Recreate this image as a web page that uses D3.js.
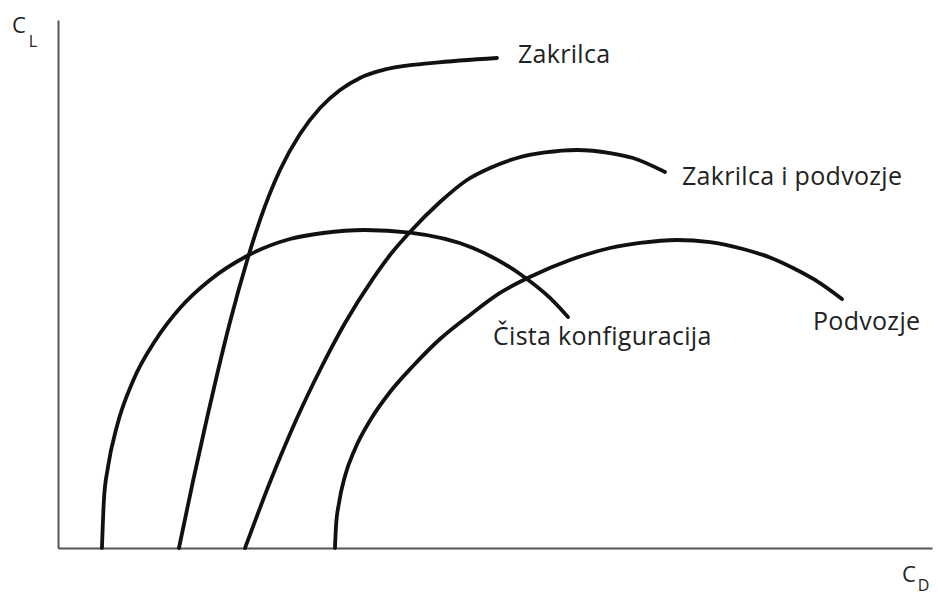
<!DOCTYPE html>
<html>
<head>
<meta charset="utf-8">
<script src="https://cdn.jsdelivr.net/npm/d3@7"></script>
<style>
  body { margin: 0; background: #fff; }
  text { font-family: "Open Sans", sans-serif; fill: #222; }
</style>
</head>
<body>
<div id="chart"></div>
<script>
// krivulje C_L(C_D), relativne jedinice 0-100
var cistaCD = [5.03, 5.26, 5.72, 6.75, 8.58, 11.10, 13.96, 17.39, 21.62, 26.54, 30.32, 35.13, 40.27, 47.48, 52.86, 56.29, 58.35];
var cistaCL = [0, 9.28, 15.34, 23.11, 31.63, 39.20, 45.45, 50.76, 55.30, 58.52, 59.66, 60.23, 59.73, 56.82, 51.89, 47.35, 43.75];

var zakrilcaCD = [13.84, 15.45, 17.05, 18.19, 19.68, 21.62, 23.11, 25.40, 27.69, 29.98, 32.27, 34.55, 37.64, 42.91, 50.23];
var zakrilcaCL = [0, 12.69, 24.62, 32.77, 42.80, 54.36, 62.12, 71.59, 78.41, 83.33, 86.74, 89.02, 90.72, 91.86, 92.80];

var zipCD = [21.40, 24.26, 27.35, 29.98, 32.84, 36.04, 37.99, 40.27, 43.71, 46.80, 49.43, 52.52, 55.72, 59.38, 63.16, 65.79, 69.45];
var zipCL = [0, 12.50, 24.62, 33.71, 42.61, 51.02, 55.49, 59.85, 65.53, 69.70, 71.97, 73.86, 74.91, 75.38, 74.81, 73.86, 71.21];

var podvozjeCD = [31.69, 31.81, 32.15, 32.84, 33.98, 35.81, 37.99, 40.62, 43.71, 47.14, 50.57, 54.23, 58.58, 63.16, 66.59, 70.82, 74.60, 78.38, 81.46, 84.10, 86.61, 89.70];
var podvozjeCL = [0, 4.17, 8.52, 13.64, 18.75, 24.43, 29.55, 34.47, 39.58, 44.13, 48.30, 51.52, 54.55, 56.82, 57.77, 58.33, 57.95, 56.63, 55.02, 53.03, 50.76, 47.16];

var names = ["Čista konfiguracija", "Zakrilca", "Zakrilca i podvozje", "Podvozje"];

var series = [
  { name: names[0], cd: cistaCD, cl: cistaCL, dx: -75, dy: 28 },
  { name: names[1], cd: zakrilcaCD, cl: zakrilcaCL, dx: 21, dy: 5 },
  { name: names[2], cd: zipCD, cl: zipCL, dx: 17, dy: 13 },
  { name: names[3], cd: podvozjeCD, cl: podvozjeCL, dx: -29, dy: 31 }
];

var width = 938, height = 597;

var svg = d3.select("#chart").append("svg")
    .attr("width", width)
    .attr("height", height);

var x = d3.scaleLinear().domain([0, 100]).range([58, 932]);
var y = d3.scaleLinear().domain([0, 100]).range([548, 20]);

// osi bez podjela
svg.append("g")
    .attr("transform", "translate(0," + y(0) + ")")
    .call(d3.axisBottom(x).tickValues([]).tickSizeOuter(0))
    .select(".domain").attr("stroke", "#555").attr("stroke-width", 2);

svg.append("g")
    .attr("transform", "translate(" + x(0) + ",0)")
    .call(d3.axisLeft(y).tickValues([]).tickSizeOuter(0))
    .select(".domain").attr("stroke", "#555").attr("stroke-width", 2);

var line = d3.line()
    .x(function (d) { return x(d[0]); })
    .y(function (d) { return y(d[1]); })
    .curve(d3.curveMonotoneX);

series.forEach(function (s) {
    var pts = s.cd.map(function (v, i) { return [v, s.cl[i]]; });
    svg.append("path")
        .datum(pts)
        .attr("d", line)
        .attr("fill", "none")
        .attr("stroke", "#111")
        .attr("stroke-width", 3.8)
        .attr("stroke-linecap", "round");

    var last = pts[pts.length - 1];
    svg.append("text")
        .attr("x", x(last[0]) + s.dx)
        .attr("y", y(last[1]) + s.dy)
        .attr("font-size", "25px")
        .attr("letter-spacing", "0.3px")
        .text(s.name);
});

// oznake osi
var cl = svg.append("text").attr("x", 12).attr("y", 33).attr("font-size", "22px");
cl.append("tspan").text("C");
cl.append("tspan").attr("dx", 3).attr("dy", 14).attr("font-size", "16px").text("L");

var cd = svg.append("text").attr("x", 902).attr("y", 582).attr("font-size", "22px");
cd.append("tspan").text("C");
cd.append("tspan").attr("dx", 2).attr("dy", 9).attr("font-size", "16px").text("D");
</script>
</body>
</html>
